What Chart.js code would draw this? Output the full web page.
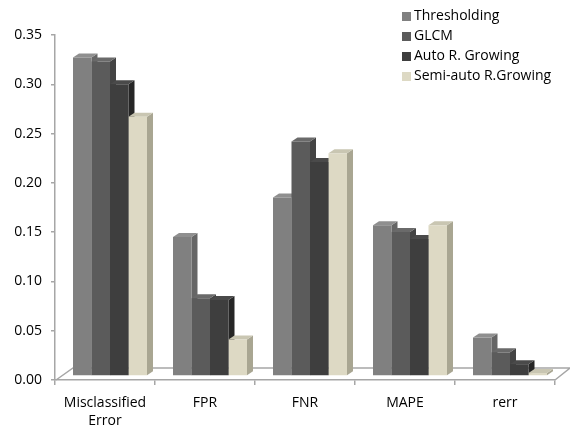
<!DOCTYPE html>
<html>
<head>
<meta charset="utf-8">
<script src="https://cdn.jsdelivr.net/npm/chart.js@4/dist/chart.umd.min.js"></script>
<style>
  html, body { margin: 0; padding: 0; background: #ffffff; }
  #wrap { width: 570px; height: 425px; position: relative; }
</style>
</head>
<body>
<div id="wrap"><canvas id="c" width="570" height="425"></canvas></div>
<script>
// Error measures per segmentation method
const categories = [["Misclassified", "Error"], "FPR", "FNR", "MAPE", "rerr"];
const seriesNames = ["Thresholding", "GLCM", "Auto R. Growing", "Semi-auto R.Growing"];
const thresholding = [0.323, 0.141, 0.181, 0.153, 0.039];
const glcm         = [0.319, 0.079, 0.238, 0.146, 0.024];
const autoGrowing  = [0.296, 0.077, 0.217, 0.139, 0.012];
const semiGrowing  = [0.263, 0.037, 0.226, 0.153, 0.003];
const yTicks = [0, 0.05, 0.10, 0.15, 0.20, 0.25, 0.30, 0.35];

// front / side / top shades for each series
const palette = [
  { front: "#808080", side: "#666666", top: "#8f8f8f" },
  { front: "#5b5b5b", side: "#444444", top: "#6a6a6a" },
  { front: "#3e3e3e", side: "#262626", top: "#4a4a4a" },
  { front: "#ddd9c4", side: "#a9a692", top: "#c9c6b2" }
];
const seriesValues = [thresholding, glcm, autoGrowing, semiGrowing];

const FONT = "'Open Sans', 'Liberation Sans', sans-serif";
const DEPTH_X = 6, DEPTH_Y = 4;     // column depth projection
const SHIFT_X = 5, SHIFT_Y = -4;    // columns stand mid-way back on the floor

// floor plane + 3D side/top faces of the columns
const depthPlugin = {
  id: "depth",
  beforeDatasetsDraw(chart) {
    const ctx = chart.ctx;
    const a = chart.chartArea;
    const y0 = chart.scales.y.getPixelForValue(0);
    // floor
    ctx.save();
    ctx.strokeStyle = "#a6a6a6";
    ctx.lineWidth = 1.5;
    ctx.beginPath();
    ctx.moveTo(a.left + 1, y0);
    ctx.lineTo(a.left + 18, y0 - 12);
    ctx.lineTo(a.right + 15, y0 - 12);
    ctx.lineTo(a.right, y0);
    ctx.stroke();
    ctx.restore();

    ctx.save();
    ctx.translate(SHIFT_X, SHIFT_Y);
    const n = chart.data.labels.length;
    for (let i = 0; i < n; i++) {
      chart.data.datasets.forEach((ds, di) => {
        const el = chart.getDatasetMeta(di).data[i];
        const { x, y, base, width } = el.getProps(["x", "y", "base", "width"], true);
        const l = x - width / 2, r = x + width / 2;
        const c = palette[di];
        // side face
        ctx.fillStyle = c.side;
        ctx.beginPath();
        ctx.moveTo(r, y);
        ctx.lineTo(r + DEPTH_X, y - DEPTH_Y);
        ctx.lineTo(r + DEPTH_X, base - DEPTH_Y);
        ctx.lineTo(r, base);
        ctx.closePath();
        ctx.fill();
        // top face
        ctx.fillStyle = c.top;
        ctx.beginPath();
        ctx.moveTo(l, y);
        ctx.lineTo(l + DEPTH_X, y - DEPTH_Y);
        ctx.lineTo(r + DEPTH_X, y - DEPTH_Y);
        ctx.lineTo(r, y);
        ctx.closePath();
        ctx.fill();
      });
    }
    ctx.restore();
    ctx.save();
    ctx.translate(SHIFT_X, SHIFT_Y);
  },
  afterDatasetsDraw(chart) {
    chart.ctx.restore();
  }
};

// legend block in the upper right corner
const legendPlugin = {
  id: "cornerLegend",
  afterDraw(chart) {
    const ctx = chart.ctx;
    ctx.save();
    ctx.font = "14px " + FONT;
    ctx.textBaseline = "middle";
    chart.data.datasets.forEach((ds, i) => {
      const yc = 16 + i * 20;
      ctx.fillStyle = palette[i].front;
      ctx.fillRect(402, yc - 4, 9, 9);
      ctx.fillStyle = "#000000";
      ctx.fillText(ds.label, 414, yc);
    });
    ctx.restore();
  }
};

new Chart(document.getElementById("c"), {
  type: "bar",
  data: {
    labels: categories,
    datasets: seriesValues.map((vals, i) => ({
      label: seriesNames[i],
      data: vals,
      backgroundColor: palette[i].front,
      borderWidth: 0,
      categoryPercentage: 0.74,
      barPercentage: 1.0
    }))
  },
  options: {
    responsive: false,
    animation: false,
    devicePixelRatio: 1,
    layout: { padding: { top: 35, right: 15, left: 0, bottom: 0 } },
    plugins: { legend: { display: false }, tooltip: { enabled: false } },
    scales: {
      x: {
        grid: { display: true, drawOnChartArea: false, offset: true, tickLength: 5, color: "#a6a6a6", lineWidth: 1.5 },
        border: { display: true, color: "#a6a6a6", width: 1.5 },
        ticks: { color: "#000000", font: { family: FONT, size: 14, lineHeight: 1.3 }, padding: 9, maxRotation: 0 },
        afterFit(scale) { scale.height = 45; }
      },
      y: {
        min: 0,
        max: 0.35,
        afterBuildTicks(scale) { scale.ticks = yTicks.map(v => ({ value: v })); },
        grid: { display: true, drawOnChartArea: false, tickLength: 4, color: "#a6a6a6", lineWidth: 1.5 },
        border: { display: true, color: "#a6a6a6", width: 1.5 },
        ticks: {
          color: "#000000",
          font: { family: FONT, size: 14 },
          padding: 9,
          callback: v => Number(v).toFixed(2)
        },
        afterFit(scale) { scale.width = 55; }
      }
    }
  },
  plugins: [depthPlugin, legendPlugin]
});
</script>
</body>
</html>
